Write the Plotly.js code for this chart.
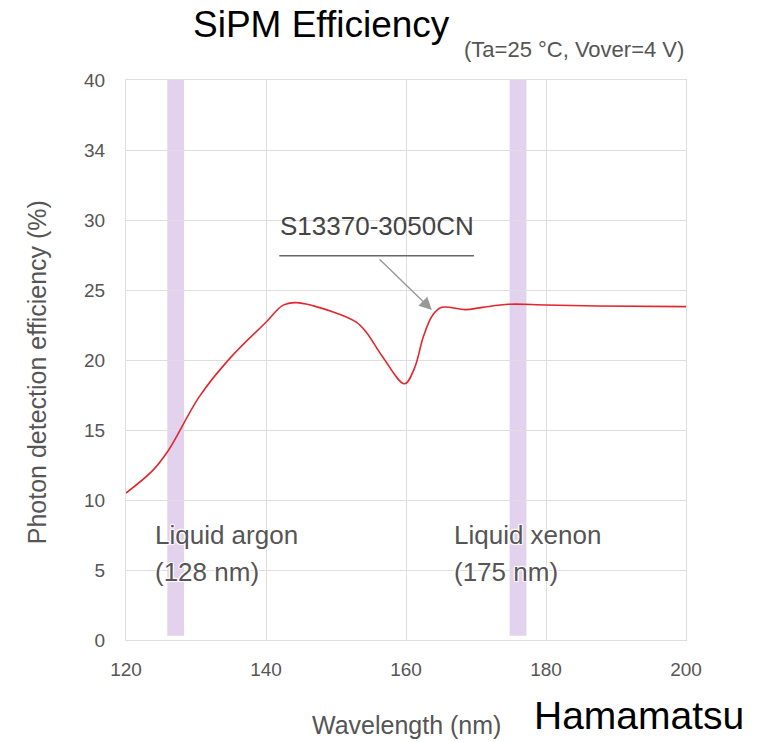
<!DOCTYPE html>
<html>
<head>
<meta charset="utf-8">
<script src="https://cdn.plot.ly/plotly-3.0.1.min.js"></script>
<style>html,body{margin:0;padding:0;background:#fff;}#chart{width:771px;height:742px;}</style>
</head>
<body>
<div id="chart"></div>
<script>
// Data
const wavelength = [120, 123.8, 126, 130.5, 134.8, 140, 142.4, 144.3, 149.5, 152.9, 154.3, 156.7, 159.8, 161.2, 162.5, 163.8, 165.1, 168.5, 170.9, 174.7, 179.9, 187.5, 200];
const pde        = [10.5, 12.1, 13.5, 17.4, 20.1, 22.7, 23.9, 24.1, 23.45, 22.7, 22.0, 20.2, 18.3, 19.4, 21.7, 23.2, 23.76, 23.6, 23.76, 23.98, 23.93, 23.86, 23.81];
const yTickVals  = [0, 5, 10, 15, 20, 25, 30, 35, 40];
const yTickText  = ["0", "5", "10", "15", "20", "25", "30", "34", "40"];
const xTickVals  = [120, 140, 160, 180, 200];
const bandArgon  = [125.9, 128.3];
const bandXenon  = [174.8, 177.2];

const FONT = "Liberation Sans, Arial, Helvetica, sans-serif";
const halo = "1px 1px 1px #fff, -1px -1px 1px #fff, 1px -1px 1px #fff, -1px 1px 1px #fff";

const trace = {
  x: wavelength, y: pde, type: "scatter", mode: "lines",
  line: {color: "#e3262b", width: 1.6, shape: "spline", smoothing: 1},
  hoverinfo: "skip", showlegend: false
};

const bandStyle = {type: "rect", xref: "x", yref: "y", y0: 0.3, y1: 40.3,
  fillcolor: "rgba(190,155,215,0.45)", line: {width: 0}, layer: "below"};

const layout = {
  width: 771, height: 742,
  margin: {l: 126, r: 85, t: 80, b: 102},
  paper_bgcolor: "#fff", plot_bgcolor: "#fff",
  font: {family: FONT, color: "#555"},
  showlegend: false,
  xaxis: {
    range: [120, 200], tickvals: xTickVals, ticks: "", showgrid: true,
    gridcolor: "#dedede", gridwidth: 1, showline: true, linecolor: "#dedede",
    mirror: true, zeroline: false, tickfont: {size: 19, color: "#555"},
    ticklabelstandoff: 12
  },
  yaxis: {
    range: [0, 40], tickvals: yTickVals, ticktext: yTickText, ticks: "",
    showgrid: true, gridcolor: "#dedede", gridwidth: 1, showline: true,
    linecolor: "#dedede", mirror: true, zeroline: false,
    tickfont: {size: 19, color: "#555"}, ticklabelstandoff: 16
  },
  shapes: [
    Object.assign({}, bandStyle, {x0: bandArgon[0], x1: bandArgon[1]}),
    Object.assign({}, bandStyle, {x0: bandXenon[0], x1: bandXenon[1]}),
    {type: "line", xref: "x", yref: "y", x0: 141.9, x1: 169.7, y0: 27.45, y1: 27.45,
     line: {color: "#666", width: 1.5}}
  ],
  annotations: [
    {text: "SiPM Efficiency", xref: "paper", yref: "paper", x: 0.349, y: 1.099,
     showarrow: false, xanchor: "center", yanchor: "middle",
     font: {size: 37, color: "#000", family: FONT}},
    {text: "(Ta=25 °C, Vover=4 V)", xref: "paper", yref: "paper", x: 0.8, y: 1.0536,
     showarrow: false, xanchor: "center", yanchor: "middle",
     font: {size: 22, color: "#555", family: FONT}},
    {text: "Photon detection efficiency (%)", xref: "paper", yref: "paper",
     x: -0.159, y: 0.478, textangle: -90, showarrow: false,
     xanchor: "center", yanchor: "middle", font: {size: 25, color: "#555", family: FONT}},
    {text: "Wavelength (nm)", xref: "paper", yref: "paper", x: 0.5, y: -0.152,
     showarrow: false, xanchor: "center", yanchor: "middle",
     font: {size: 25, color: "#555", family: FONT}},
    {text: "Hamamatsu", xref: "paper", yref: "paper", x: 0.916, y: -0.1356,
     showarrow: false, xanchor: "center", yanchor: "middle",
     font: {size: 39, color: "#000", family: FONT}},
    {text: "S13370-3050CN", xref: "x", yref: "y", x: 155.8, y: 29.6,
     showarrow: false, xanchor: "center", yanchor: "middle",
     font: {size: 26, color: "#444", family: FONT}},
    {text: "", xref: "x", yref: "y", x: 163.7, y: 23.57, axref: "x", ayref: "y",
     ax: 156, ay: 27.3, showarrow: true, arrowhead: 2, arrowsize: 1.8,
     arrowwidth: 1.4, arrowcolor: "#999"},
    {text: "Liquid argon", xref: "x", yref: "y", x: 123.85, y: 7.5,
     showarrow: false, xanchor: "left", yanchor: "middle",
     font: {size: 26, color: "#555", family: FONT, shadow: halo}},
    {text: "(128 nm)", xref: "x", yref: "y", x: 123.85, y: 4.86,
     showarrow: false, xanchor: "left", yanchor: "middle",
     font: {size: 26, color: "#555", family: FONT, shadow: halo}},
    {text: "Liquid xenon", xref: "x", yref: "y", x: 166.6, y: 7.5,
     showarrow: false, xanchor: "left", yanchor: "middle",
     font: {size: 26, color: "#555", family: FONT, shadow: halo}},
    {text: "(175 nm)", xref: "x", yref: "y", x: 166.6, y: 4.86,
     showarrow: false, xanchor: "left", yanchor: "middle",
     font: {size: 26, color: "#555", family: FONT, shadow: halo}}
  ]
};

Plotly.newPlot("chart", [trace], layout, {staticPlot: true, displayModeBar: false});
</script>
</body>
</html>
